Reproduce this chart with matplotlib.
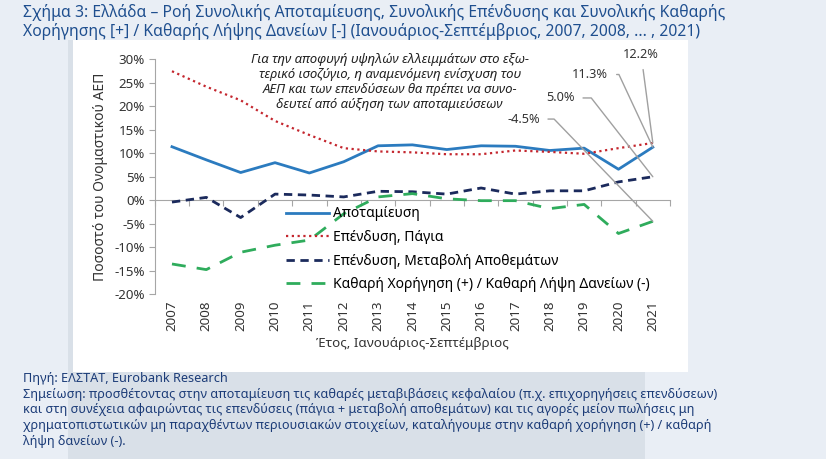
import matplotlib
matplotlib.use("Agg")
import matplotlib.pyplot as plt
from matplotlib.patches import Rectangle
import numpy as np

plt.rcParams['font.family'] = ['Noto Sans', 'DejaVu Sans']

# Δεδομένα (% του ονομαστικού ΑΕΠ)
years = list(range(2007, 2022))
savings = [11.4, 8.6, 5.9, 8.0, 5.8, 8.2, 11.6, 11.8, 10.8, 11.6, 11.5, 10.6, 11.1, 6.6, 11.3]
fixed_inv = [27.5, 24.2, 21.3, 16.9, 13.9, 11.1, 10.4, 10.2, 9.8, 9.8, 10.6, 10.3, 9.9, 11.1, 12.2]
inventories = [-0.4, 0.6, -3.7, 1.3, 1.1, 0.7, 1.9, 1.8, 1.3, 2.6, 1.3, 2.0, 2.0, 3.9, 5.0]
net_lending = [-13.6, -14.8, -11.1, -9.6, -8.5, -2.9, 0.7, 1.4, 0.3, -0.1, -0.1, -1.8, -0.9, -7.1, -4.5]

labels = ['Αποταμίευση', 'Επένδυση, Πάγια', 'Επένδυση, Μεταβολή Αποθεμάτων',
          'Καθαρή Χορήγηση (+) / Καθαρή Λήψη Δανείων (-)']

title = ('Σχήμα 3: Ελλάδα – Ροή Συνολικής Αποταμίευσης, Συνολικής Επένδυσης και Συνολικής Καθαρής\n'
         'Χορήγησης [+] / Καθαρής Λήψης Δανείων [-] (Ιανουάριος-Σεπτέμβριος, 2007, 2008, ... , 2021)')
note_text = ('Για την αποφυγή υψηλών ελλειμμάτων στο εξω-\n'
             'τερικό ισοζύγιο, η αναμενόμενη ενίσχυση του\n'
             'ΑΕΠ και των επενδύσεων θα πρέπει να συνο-\n'
             'δευτεί από αύξηση των αποταμιεύσεων')
source = ('Πηγή: ΕΛΣΤΑΤ, Eurobank Research\n'
          'Σημείωση: προσθέτοντας στην αποταμίευση τις καθαρές μεταβιβάσεις κεφαλαίου (π.χ. επιχορηγήσεις επενδύσεων)\n'
          'και στη συνέχεια αφαιρώντας τις επενδύσεις (πάγια + μεταβολή αποθεμάτων) και τις αγορές μείον πωλήσεις μη\n'
          'χρηματοπιστωτικών μη παραχθέντων περιουσιακών στοιχείων, καταλήγουμε στην καθαρή χορήγηση (+) / καθαρή\n'
          'λήψη δανείων (-).')

W, H = 826, 459
fig = plt.figure(figsize=(W / 100, H / 100), dpi=100)
fig.patch.set_facecolor('#e9eef5')

# φόντα πλαισίων
fig.add_artist(Rectangle((68 / W, 0), (645 - 68) / W, 1 - 40 / H, transform=fig.transFigure,
                         facecolor='#d9e0e8', edgecolor='none', zorder=0))
fig.add_artist(Rectangle((73 / W, 1 - 372 / H), (688 - 73) / W, (372 - 40) / H, transform=fig.transFigure,
                         facecolor='white', edgecolor='none', zorder=0))

title_col = '#1f4f8f'
fig.text(23 / W, 1 - 4 / H, title, ha='left', va='top', fontsize=11.3, color=title_col,
         linespacing=1.15)
fig.text(23 / W, 1 - 372 / H, source, ha='left', va='top', fontsize=9.15, color='#1c3c78',
         linespacing=1.27)

ax = fig.add_axes([154.8 / W, 1 - 294 / H, (670 - 154.8) / W, (294 - 59.5) / H])
ax.set_facecolor('none')

ax.plot(years, savings, color='#2b7bbf', lw=2, label=labels[0], zorder=3)
ax.plot(years, fixed_inv, color='#c4262e', lw=1.6, ls=(0, (1, 1.6)), label=labels[1], zorder=3)
ax.plot(years, inventories, color='#1b2a5c', lw=2, ls=(0, (3, 2)), label=labels[2], zorder=3)
ax.plot(years, net_lending, color='#2fac5c', lw=2, ls=(0, (5, 4)), label=labels[3], zorder=3)

ax.set_xlim(2006.5, 2021.5)
ax.set_ylim(-20, 30)
ax.set_yticks(np.arange(-20, 31, 5))
ax.set_yticklabels([f'{v}%' for v in range(-20, 31, 5)])

for s in ['top', 'right']:
    ax.spines[s].set_visible(False)
ax.spines['left'].set_color('#a6a6a6')
ax.spines['bottom'].set_color('#a6a6a6')
ax.spines['bottom'].set_position(('data', 0))
ax.tick_params(axis='y', length=4, color='#a6a6a6', labelsize=9.6, labelcolor='#333333', pad=3)
ax.set_xticks(np.arange(2006.5, 2022, 1))
ax.tick_params(axis='x', length=4, color='#a6a6a6', labelbottom=False)

sec = ax.secondary_xaxis('bottom')
sec.set_xticks(years)
sec.set_xticklabels([str(y) for y in years], rotation=90)
sec.tick_params(length=0, labelsize=9.6, labelcolor='#333333', pad=5)
sec.spines['bottom'].set_visible(False)
sec.set_xlabel('Έτος, Ιανουάριος-Σεπτέμβριος', fontsize=9.6, color='#333333', labelpad=4)

ax.set_ylabel('Ποσοστό του Ονομαστικού ΑΕΠ', fontsize=10, color='#333333', labelpad=5)

ax.legend(loc='upper left', bbox_to_anchor=(0.243, 0.397), frameon=False, fontsize=10,
          handlelength=3.1, labelspacing=0.62, handletextpad=0.35, borderaxespad=0)

ax.text(2013.34, 31.4, note_text, ha='center', va='top', fontsize=9.5, style='italic',
        color='#222222', linespacing=1.2)

# ετικέτες τελευταίων τιμών
last = 2021
ann = [
    (f'{fixed_inv[-1]:.1f}%', fixed_inv[-1], (2020.66, 31.0), None),
    (f'{savings[-1]:.1f}%', savings[-1], (2019.18, 26.8), 65),
    (f'{inventories[-1]:.1f}%', inventories[-1], (2018.31, 21.8), 52),
    (f'{net_lending[-1]:.1f}%', net_lending[-1], (2017.23, 17.3), 46),
]
for txt, val, pos, ang in ann:
    if ang is None:
        cs = 'arc3'
    else:
        cs = f'angle,angleA=0,angleB={180 - ang},rad=0'
    ax.annotate(txt, xy=(last, val), xytext=pos, textcoords='data', ha='center', va='center',
                fontsize=9.2, color='#333333', annotation_clip=False,
                arrowprops=dict(arrowstyle='-', color='#a0a0a0', lw=1, shrinkA=4, shrinkB=0,
                                connectionstyle=cs))

fig.savefig('out.png', dpi=100, facecolor=fig.get_facecolor())
